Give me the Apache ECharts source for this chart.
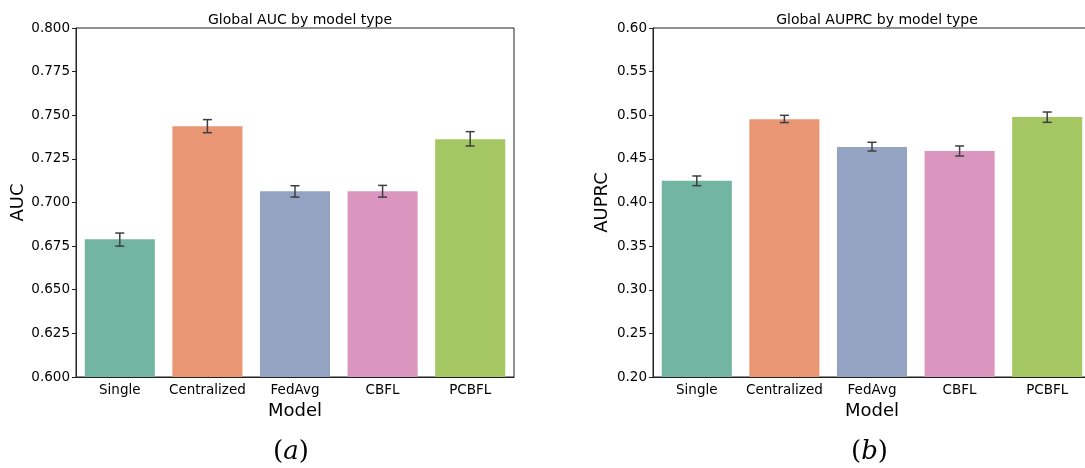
<!DOCTYPE html>
<html><head><meta charset="utf-8">
<script src="https://cdn.jsdelivr.net/npm/echarts@6/dist/echarts.min.js"></script>
<style>html,body{margin:0;padding:0;background:#fff;overflow:hidden;width:1085px;height:468px}#c{width:1100px;height:468px}</style>
</head><body><div id="c"></div>
<script>
const categories = ['Single', 'Centralized', 'FedAvg', 'CBFL', 'PCBFL'];
const aucValues = [0.679, 0.7437, 0.7064, 0.7064, 0.7362];
const aucLow = [0.675, 0.740, 0.7031, 0.7031, 0.7324];
const aucHigh = [0.6825, 0.7475, 0.7096, 0.7098, 0.7406];
const auprcValues = [0.425, 0.4954, 0.4636, 0.459, 0.498];
const auprcLow = [0.4193, 0.4916, 0.459, 0.4533, 0.4919];
const auprcHigh = [0.4304, 0.4999, 0.469, 0.4648, 0.5037];
const aucTicks = {min: 0.6, max: 0.8, interval: 0.025};
const auprcTicks = {min: 0.2, max: 0.6, interval: 0.05};
const colors = ['#72b6a1', '#e99675', '#95a3c3', '#db96c0', '#a4c764'];

const font = 'DejaVu Sans';
function errSeries(idx, low, high) {
  return {
    type: 'custom', xAxisIndex: idx, yAxisIndex: idx, z: 10,
    data: categories.map((c, i) => [i, low[i], high[i]]),
    renderItem: function (params, api) {
      const p1 = api.coord([api.value(0), api.value(1)]);
      const p2 = api.coord([api.value(0), api.value(2)]);
      const hw = 4.5;
      const st = {stroke: '#3f3f3f', lineWidth: 1.5};
      return {type: 'group', children: [
        {type: 'line', shape: {x1: p1[0], y1: p1[1], x2: p2[0], y2: p2[1]}, style: st},
        {type: 'line', shape: {x1: p1[0]-hw, y1: p1[1], x2: p1[0]+hw, y2: p1[1]}, style: st},
        {type: 'line', shape: {x1: p2[0]-hw, y1: p2[1], x2: p2[0]+hw, y2: p2[1]}, style: st}
      ]};
    }
  };
}
function xAx(idx) {
  return {type: 'category', gridIndex: idx, data: categories, name: 'Model',
    nameLocation: 'middle', nameGap: 23, nameTextStyle: {fontFamily: font, fontSize: 18, color: '#000'},
    axisLine: {lineStyle: {color: '#222', width: 1}},
    axisTick: {alignWithLabel: true, length: 4, lineStyle: {color: '#222'}},
    axisLabel: {fontFamily: font, fontSize: 13.5, color: '#000', margin: 6, interval: 0}};
}
function yAx(idx, t, name, gap, fmt) {
  return {type: 'value', gridIndex: idx, min: t.min, max: t.max, interval: t.interval,
    name: name, nameLocation: 'middle', nameGap: gap, nameTextStyle: {fontFamily: font, fontSize: 18, color: '#000'},
    axisLine: {show: true, lineStyle: {color: '#222', width: 1}},
    axisTick: {show: true, length: 4, lineStyle: {color: '#222'}},
    splitLine: {show: false},
    axisLabel: {fontFamily: font, fontSize: 13.5, color: '#000', margin: 6, formatter: v => v.toFixed(fmt)}};
}
function barSeries(idx, vals) {
  return {type: 'bar', xAxisIndex: idx, yAxisIndex: idx, barCategoryGap: '20%',
    data: vals.map((v, i) => ({value: v, itemStyle: {color: colors[i]}}))};
}
const chart = echarts.init(document.getElementById('c'), null, {renderer: 'canvas'});
const capStyle = {fontFamily: '"DejaVu Serif"', fontSize: 26, color: '#000'};
chart.setOption({
  animation: false,
  title: [
    {text: 'Global AUC by model type', left: 295, top: 8, textAlign: 'center',
     textStyle: {fontFamily: font, fontSize: 14, fontWeight: 'normal', color: '#000'}},
    {text: 'Global AUPRC by model type', left: 872, top: 8, textAlign: 'center',
     textStyle: {fontFamily: font, fontSize: 14, fontWeight: 'normal', color: '#000'}}
  ],
  grid: [
    {left: 76, top: 28, width: 438, height: 349, show: true, borderColor: '#222', borderWidth: 1, containLabel: false},
    {left: 653, top: 28, width: 438, height: 349, show: true, borderColor: '#222', borderWidth: 1, containLabel: false}
  ],
  xAxis: [xAx(0), xAx(1)],
  yAxis: [yAx(0, aucTicks, 'AUC', 49, 3), yAx(1, auprcTicks, 'AUPRC', 42, 2)],
  series: [barSeries(0, aucValues), errSeries(0, aucLow, aucHigh),
           barSeries(1, auprcValues), errSeries(1, auprcLow, auprcHigh)],
  graphic: [
    {type: 'text', left: 273, top: 439, style: {text: '{p|(}{i|a}{p|)}',
      rich: {p: Object.assign({}, capStyle), i: Object.assign({fontStyle: 'italic'}, capStyle)}}},
    {type: 'text', left: 851, top: 439, style: {text: '{p|(}{i|b}{p|)}',
      rich: {p: Object.assign({}, capStyle), i: Object.assign({fontStyle: 'italic'}, capStyle)}}}
  ]
});
</script></body></html>
